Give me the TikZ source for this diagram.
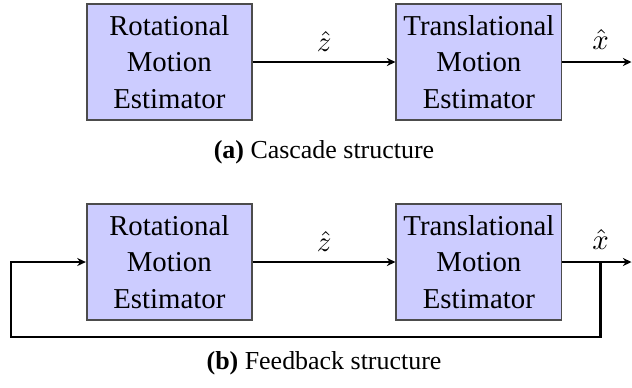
\documentclass[tikz,border=0pt]{standalone}
\usepackage{fontspec}
\setmainfont{Liberation Serif}
\usepackage{amsmath}
\usetikzlibrary{arrows.meta,positioning}
\definecolor{estfill}{rgb}{0.80,0.80,1.00}
\definecolor{estline}{rgb}{0.30,0.30,0.30}
\tikzset{
  estbox/.style={draw=estline, fill=estfill, semithick, align=center,
    minimum width=57.3pt, minimum height=40.3pt, inner xsep=1.5pt,
    font=\fontsize{10}{12.6}\selectfont},
  sig/.style={thick, -{Stealth[length=3pt, width=2.8pt]}},
  capt/.style={font=\fontsize{9}{11}\selectfont}
}
\begin{document}
\begin{tikzpicture}[x=0.347pt, y=-0.347pt]
  \useasboundingbox (0,0) rectangle (632,387);

  % (a) cascade
  \node[estbox] (rotA)   at (169.3,62) {Rotational\\Motion\\Estimator};
  \node[estbox] (transA) at (478.9,62) {Translational\\Motion\\Estimator};
  \coordinate (brA)  at (600.6,62);
  \coordinate (outA) at (631.5,62);
  \draw[sig] (rotA) -- node[above] (zhatA) {$\hat{z}$} (transA);
  \draw[sig] (transA) -- (outA);
  \node[above=0.8pt] (xhatA) at (brA) {$\hat{x}$};
  \node[capt] (capA) at (324,152) {\textbf{(a)} Cascade structure};

  % (b) feedback
  \node[estbox] (rotB)   at (169.3,262) {Rotational\\Motion\\Estimator};
  \node[estbox] (transB) at (478.9,262) {Translational\\Motion\\Estimator};
  \coordinate (brB)  at (600.6,262);
  \coordinate (outB) at (631.5,262);
  \coordinate (fbR)  at (600.6,337);
  \coordinate (fbL)  at (10.9,337);
  \coordinate (inB)  at (10.9,262);
  \draw[sig] (rotB) -- node[above] (zhatB) {$\hat{z}$} (transB);
  \draw[sig] (transB) -- (outB);
  \node[above=0.8pt] (xhatB) at (brB) {$\hat{x}$};
  \draw[sig] (brB) -- (fbR) -- (fbL) -- (inB) -- (rotB.west);
  \node[capt] (capB) at (324,363) {\textbf{(b)} Feedback structure};
\end{tikzpicture}
\end{document}
